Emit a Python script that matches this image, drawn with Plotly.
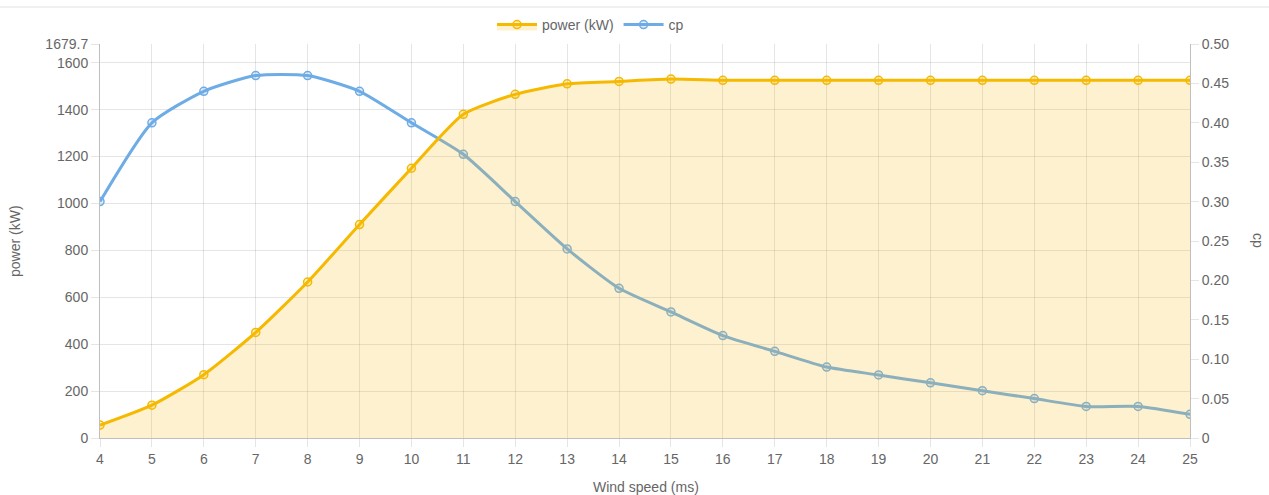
import plotly.graph_objects as go

wind_speed = [4, 5, 6, 7, 8, 9, 10, 11, 12, 13, 14, 15, 16, 17, 18, 19, 20, 21, 22, 23, 24, 25]
power_kw = [55, 140, 270, 450, 665, 910, 1150, 1380, 1465, 1510, 1520, 1530, 1525, 1525, 1525, 1525,
            1525, 1525, 1525, 1525, 1525, 1525]
cp = [0.30, 0.40, 0.44, 0.46, 0.46, 0.44, 0.40, 0.36, 0.30, 0.24, 0.19, 0.16, 0.13, 0.11, 0.09,
      0.08, 0.07, 0.06, 0.05, 0.04, 0.04, 0.03]

power_tickvals = [0, 200, 400, 600, 800, 1000, 1200, 1400, 1600, 1679.7]
power_ticktext = ["0", "200", "400", "600", "800", "1000", "1200", "1400", "1600", "1679.7"]
cp_tickvals = [0, 0.05, 0.10, 0.15, 0.20, 0.25, 0.30, 0.35, 0.40, 0.45, 0.50]
cp_ticktext = ["0", "0.05", "0.10", "0.15", "0.20", "0.25", "0.30", "0.35", "0.40", "0.45", "0.50"]

FONT = "Liberation Sans, Arial, sans-serif"
FS = 14
GRAY = "#666666"
GRID = "rgba(0,0,0,0.1)"
AXLINE = "rgba(0,0,0,0.25)"

W, H = 1269, 495
L, R, T, B = 100, 79, 44, 57
PW, PH = W - L - R, H - T - B

fig = go.Figure()

fig.add_trace(go.Scatter(
    x=wind_speed, y=power_kw, name="power (kW)", yaxis="y2",
    mode="lines+markers",
    line=dict(color="rgb(245,185,0)", width=3, shape="spline", smoothing=0.6),
    marker=dict(symbol="circle", size=8, color="rgba(245,185,0,0.2)",
                line=dict(color="rgb(245,185,0)", width=1.5)),
    fill="tozeroy", fillcolor="rgba(245,190,40,0.22)",
    legendrank=1,
))

fig.add_trace(go.Scatter(
    x=wind_speed, y=cp, name="cp", yaxis="y",
    mode="lines+markers",
    line=dict(color="rgb(110,172,230)", width=3, shape="spline", smoothing=0.6),
    marker=dict(symbol="circle", size=8, color="rgba(110,172,230,0.2)",
                line=dict(color="rgb(110,172,230)", width=1.5)),
    fill="none",
    legendrank=2,
))

fig.update_layout(
    width=W, height=H,
    margin=dict(l=L, r=R, t=T, b=B, autoexpand=False),
    paper_bgcolor="white", plot_bgcolor="white",
    font=dict(family=FONT, size=FS, color=GRAY),
    showlegend=True,
    legend=dict(orientation="h", x=0.45, xanchor="center", y=1 + 19 / PH, yanchor="middle",
                font=dict(family=FONT, size=FS, color=GRAY), itemwidth=40,
                bgcolor="rgba(0,0,0,0)"),
    xaxis=dict(
        range=[4, 25], tickmode="array", tickvals=wind_speed,
        ticktext=[str(v) for v in wind_speed],
        showgrid=True, gridcolor=GRID, gridwidth=1,
        ticks="outside", ticklen=8, tickcolor=GRID,
        showline=True, linecolor=AXLINE, linewidth=1,
        zeroline=False, automargin=False,
        tickfont=dict(family=FONT, size=FS, color=GRAY),
    ),
    yaxis=dict(
        side="right", range=[0, 0.5],
        tickmode="array", tickvals=cp_tickvals, ticktext=cp_ticktext,
        showgrid=False, zeroline=False, automargin=False,
        ticks="outside", ticklen=8, tickcolor=GRID,
        showline=True, linecolor=AXLINE, linewidth=1,
        tickfont=dict(family=FONT, size=FS, color=GRAY),
    ),
    yaxis2=dict(
        side="left", overlaying="y", range=[0, 1679.7],
        tickmode="array", tickvals=power_tickvals, ticktext=power_ticktext,
        showgrid=True, gridcolor=GRID, gridwidth=1, zeroline=False, automargin=False,
        ticks="outside", ticklen=8, tickcolor=GRID,
        showline=True, linecolor=AXLINE, linewidth=1,
        tickfont=dict(family=FONT, size=FS, color=GRAY),
    ),
    annotations=[
        dict(text="Wind speed (ms)", xref="paper", yref="paper", x=(646 - L) / PW, y=-(487 - (T + PH)) / PH,
             xanchor="center", yanchor="middle", showarrow=False,
             font=dict(family=FONT, size=FS, color=GRAY)),
        dict(text="power (kW)", xref="paper", yref="paper", x=-(L - 15) / PW, y=0.5,
             xanchor="center", yanchor="middle", textangle=-90, showarrow=False,
             font=dict(family=FONT, size=FS, color=GRAY)),
        dict(text="cp", xref="paper", yref="paper", x=1.0 + (1258 - (L + PW)) / PW, y=0.5,
             xanchor="center", yanchor="middle", textangle=90, showarrow=False,
             font=dict(family=FONT, size=FS, color=GRAY)),
    ],
    shapes=[dict(type="line", xref="paper", yref="paper", x0=-L / PW, x1=1 + R / PW,
                 y0=1 + (T - 7) / PH, y1=1 + (T - 7) / PH,
                 line=dict(color="rgba(0,0,0,0.12)", width=1))],
)

fig.write_html("out.html", config={"displayModeBar": False},
               post_script="document.body.style.margin='0';")
